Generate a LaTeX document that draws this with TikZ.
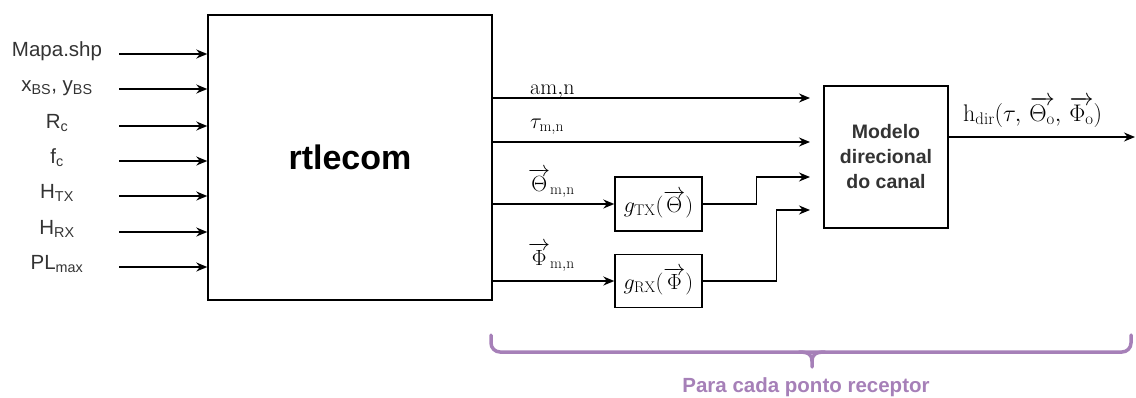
\RequirePackage{fix-cm}
\documentclass[tikz,border=0pt]{standalone}
\usepackage{fontspec}
\newfontfamily\arial{Liberation Sans}
\usetikzlibrary{arrows.meta}
\definecolor{txt}{HTML}{333333}
\definecolor{bracecol}{HTML}{A680B8}
\begin{document}
\begin{tikzpicture}[x=1pt,y=-1pt,
  blk/.style={draw, line width=1.4pt, inner sep=0pt},
  inlab/.style={font=\arial\fontsize{20.5}{24}\selectfont, text=txt, anchor=base, inner sep=0pt},
  mlab/.style={font=\fontsize{22}{26}\selectfont, anchor=base west, inner sep=0pt},
  conn/.style={-{Stealth[length=11pt,width=9pt]}, line width=1.5pt},
  curly/.style={draw=bracecol, line width=3.5pt, line cap=round}]
\useasboundingbox (0,0) rectangle (1136,397);

% main ray-tracing block
\node[blk, minimum width=284pt, minimum height=285pt] (rt) at (350,157.5)
  {\arial\bfseries\fontsize{34}{40}\selectfont rtlecom};

% inputs
\foreach \y/\t [count=\i] in {54/Mapa.shp, 89/{x\textsubscript{BS}, y\textsubscript{BS}},
    126/R\textsubscript{c}, 161/f\textsubscript{c}, 196/H\textsubscript{TX},
    232/H\textsubscript{RX}, 267/PL\textsubscript{max}}{
  \node[inlab] (lab\i) at (57,\y+2.5) {\t};
  \coordinate (src\i) at (119,\y);
  \draw[conn] (src\i) -- (src\i -| rt.west);
}

% pattern blocks and channel model
\node[blk, minimum width=87pt, minimum height=54pt, font=\fontsize{22}{26}\selectfont] (gtx) at (658.5,204)
  {$g_{\mathrm{TX}}(\overrightarrow{\Theta})$};
\node[blk, minimum width=87pt, minimum height=53pt, font=\fontsize{22}{26}\selectfont] (grx) at (658.5,281)
  {$g_{\mathrm{RX}}(\overrightarrow{\Phi})$};
\node[blk, minimum width=124pt, minimum height=142pt, align=center,
      font=\arial\bfseries\fontsize{19.5}{25}\selectfont, text=txt] (model) at (886,157)
  {Modelo\\direcional\\do canal};

% model inputs
\coordinate (m1) at (810,98);
\coordinate (m2) at (810,142);
\coordinate (m3) at (810,177);
\coordinate (m4) at (810,210);
\coordinate (hout) at (1135,137);

\draw[conn] (rt.east |- m1) -- (m1);
\draw[conn] (rt.east |- m2) -- (m2);
\draw[conn] (rt.east |- gtx.west) -- (gtx.west);
\draw[conn] (rt.east |- grx.west) -- (grx.west);
\draw[conn] (gtx.east) -- ++(54,0) |- (m3);
\draw[conn] (grx.east) -- ++(74,0) |- (m4);
\draw[conn] (model.east |- hout) -- (hout);

% connector labels
\node[mlab] (la) at (530,94) {$\mathrm{am{,}n}$};
\node[mlab] (lt) at (530,128) {$\tau_{\mathrm{m,n}}$};
\node[mlab] (lth) at (528,191) {$\overrightarrow{\Theta}_{\mathrm{m,n}}$};
\node[mlab] (lph) at (528,265) {$\overrightarrow{\Phi}_{\mathrm{m,n}}$};
\node[mlab, font=\fontsize{24}{28}\selectfont] (lh) at (963,121)
  {$\mathrm{h}_{\mathrm{dir}}(\tau,\,\overrightarrow{\Theta_{\mathrm{o}}},\,\overrightarrow{\Phi_{\mathrm{o}}})$};

% curly brace under the per-receiver part
\draw[curly, rounded corners=9pt] (491,335) -- (491,352) -- (1131,352) -- (1131,335);
\draw[curly] (799,352) .. controls (809,352) and (812,355) .. (812,361) -- (812,367);
\draw[curly] (825,352) .. controls (815,352) and (812,355) .. (812,361);
\node[font=\arial\bfseries\fontsize{20.5}{24}\selectfont, text=bracecol, inner sep=0pt, anchor=base] (cap) at (806,392)
  {Para cada ponto receptor};
\end{tikzpicture}
\end{document}
